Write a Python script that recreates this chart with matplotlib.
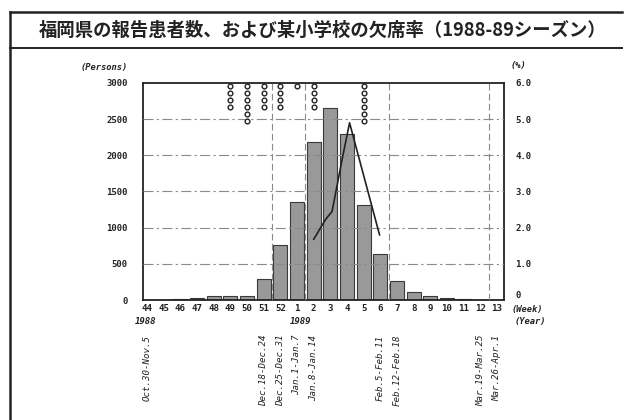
import matplotlib.pyplot as plt
from matplotlib.lines import Line2D
from matplotlib.transforms import blended_transform_factory

# DATA
weeks = [44, 45, 46, 47, 48, 49, 50, 51, 52, 1, 2, 3, 4, 5, 6, 7, 8, 9, 10, 11, 12, 13]
patients = [3, 5, 20, 30, 50, 55, 60, 290, 760, 1360, 2180, 2660, 2290, 1320, 640, 260, 110, 55, 25, 20, 0, 0]

# absence rate of the school (plotted at fractional week index)
rate_pos = [10.0, 10.7, 11.1, 11.7, 12.15, 13.95]
rate_pct = [1.68, 2.22, 2.45, 3.88, 4.9, 1.8]

# class closures per week (one circle each)
closure_weeks = [49, 50, 51, 52, 1, 2, 5]
closure_counts = [4, 6, 4, 4, 1, 4, 6]

# dashed lines drawn after these weeks
dashed_after = [51, 1, 6, 12]

date_labels = {
    44: "Oct.30-Nov.5",
    51: "Dec.18-Dec.24",
    52: "Dec.25-Dec.31",
    1: "Jan.1-Jan.7",
    2: "Jan.8-Jan.14",
    6: "Feb.5-Feb.11",
    7: "Feb.12-Feb.18",
    12: "Mar.19-Mar.25",
    13: "Mar.26-Apr.1",
}

title = "福岡県の報告患者数、および某小学校の欠席率（1988-89シーズン）"

INK = "#222222"
MONO = "DejaVu Sans Mono"

fig = plt.figure(figsize=(6.26, 4.2), dpi=100)
fig.patch.set_facecolor("white")

# frame around the panel
fig.add_artist(Line2D([0.016, 0.994], [0.9714, 0.9714], color=INK, lw=1.8))
fig.add_artist(Line2D([0.016, 0.994], [0.886, 0.886], color=INK, lw=1.4))
fig.add_artist(Line2D([0.016, 0.016], [0.0, 0.9714], color=INK, lw=1.8))
fig.text(0.516, 0.928, title, ha="center", va="center", fontsize=13.2,
         fontweight="bold", family=["Noto Sans CJK JP", "DejaVu Sans"], color=INK)

ax = fig.add_axes([0.2284, 0.2857, 0.5767, 0.5167])
x = list(range(len(weeks)))

ax.bar(x, patients, width=0.84, color="#999999", edgecolor="#3a3a3a", lw=0.8, zorder=2)

for v in [500, 1000, 1500, 2000, 2500]:
    ax.axhline(v, color="#8a8a8a", lw=0.8, ls=(0, (9, 3, 2, 3)), zorder=3)
for w in dashed_after:
    ax.axvline(weeks.index(w) + 0.5, color="#8a8a8a", lw=0.8, ls=(0, (6, 3)), zorder=3)

# closure circles hanging from the top of the frame
for w, n in zip(closure_weeks, closure_counts):
    ys = [2955 - 97 * i for i in range(n)]
    ax.plot([weeks.index(w)] * n, ys, ls="none", marker="o", ms=3.4,
            mfc="white", mec=INK, mew=1.0, zorder=4)

ax.set_xlim(-0.25, 21.42)
ax.set_ylim(0, 3000)
ax.set_yticks([0, 500, 1000, 1500, 2000, 2500, 3000])
ax.set_yticklabels(["0", "500", "1000", "1500", "2000", "2500", "3000"],
                   family=MONO, fontweight="bold", fontsize=6.5, color=INK)
ax.set_xticks(x)
ax.set_xticklabels([str(w) for w in weeks], family=MONO, fontweight="bold",
                   fontsize=6.6, color=INK)
ax.tick_params(axis="both", length=0)
ax.tick_params(axis="y", pad=11)
ax.tick_params(axis="x", pad=3)
for s in ax.spines.values():
    s.set_color(INK)
    s.set_linewidth(1.3)

ax2 = ax.twinx()
ax2.plot(rate_pos, rate_pct, color=INK, lw=1.2, zorder=5)
ax2.set_ylim(0, 6)
ax2.set_yticks([0, 1, 2, 3, 4, 5, 6])
ax2.set_yticklabels(["0", "1.0", "2.0", "3.0", "4.0", "5.0", "6.0"],
                    family=MONO, fontweight="bold", fontsize=6.5, color=INK)
ax2.get_yticklabels()[0].set_va("bottom")
ax2.tick_params(axis="y", length=0, pad=8)
for s in ax2.spines.values():
    s.set_visible(False)

trans = blended_transform_factory(ax.transData, ax.transAxes)
ax.text(weeks.index(44) - 0.1, -0.1, "1988", transform=trans, ha="center", va="center",
        family=MONO, style="italic", fontweight="bold", fontsize=6.5, color=INK)
ax.text(weeks.index(1) + 0.2, -0.1, "1989", transform=trans, ha="center", va="center",
        family=MONO, style="italic", fontweight="bold", fontsize=6.5, color=INK)
ax.text(1.022, -0.042, "(Week)", transform=ax.transAxes, ha="left", va="center",
        family=MONO, style="italic", fontweight="bold", fontsize=6.3, color=INK)
ax.text(1.03, -0.1, "(Year)", transform=ax.transAxes, ha="left", va="center",
        family=MONO, style="italic", fontweight="bold", fontsize=6.3, color=INK)

for w, lab in date_labels.items():
    ax.text(weeks.index(w), -0.16, lab, transform=trans, rotation=90,
            ha="center", va="top", family=MONO, style="italic", fontsize=6.6, color=INK)

fig.text(0.128, 0.84, "(Persons)", ha="left", va="center", family=MONO,
         style="italic", fontweight="bold", fontsize=6.3, color=INK)
fig.text(0.815, 0.843, "(%)", ha="left", va="center", family=MONO,
         style="italic", fontweight="bold", fontsize=6.3, color=INK)

fig.savefig("out.png", dpi=100)
